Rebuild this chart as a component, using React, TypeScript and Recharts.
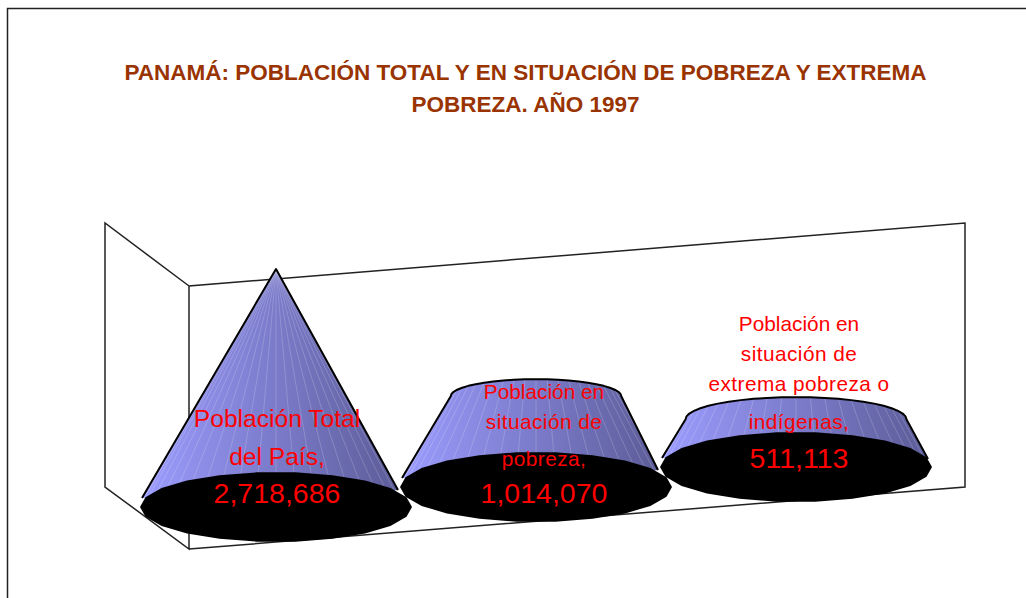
import { BarChart, Bar, XAxis, YAxis, LabelList } from 'recharts'

const titleLines = [
  'PANAMÁ: POBLACIÓN TOTAL Y EN SITUACIÓN DE POBREZA Y EXTREMA',
  'POBREZA. AÑO 1997',
]
const categories = [
  'Población Total del País',
  'Población en situación de pobreza',
  'Población en situación de extrema pobreza o indígenas',
]
const values = [2718686, 1014070, 511113]
const labelLines = [
  ['Población Total', 'del País,'],
  ['Población en', 'situación de', 'pobreza,'],
  ['Población en', 'situación de', 'extrema pobreza o', 'indígenas,'],
]
const valueLabels = ['2,718,686', '1,014,070', '511,113']

const data = categories.map((name, i) => ({ name, value: values[i] }))

// fake 3D: the floor climbs to the right, and the frustum tops sit a bit higher
const floorLift = [0, 20, 40]
const topLift = [0, 2, 3]
const rightEdge = [122, 122, 132]
const labelShift = [1, 8, 3]
const labelBaselines = [
  [427, 465, 503],
  [399, 429, 466, 503],
  [331, 361, 391, 429, 468],
]

const BASE_RATIO = 136 / 260
const BASE_RY = 35
const RED = '#ff0000'

function ellipsePoints(cx: number, cy: number, rx: number, ry: number, steps: number) {
  const pts: string[] = []
  for (let i = 0; i < steps; i++) {
    const a = (i / steps) * Math.PI * 2
    pts.push(`${cx + rx * Math.cos(a)},${cy + ry * Math.sin(a)}`)
  }
  return pts.join(' ')
}

function ConeShape(props: any) {
  const { x, y, width, height, index } = props
  const cx = x + width / 2
  const rb = width * BASE_RATIO
  const baseY = y + height - floorLift[index]
  const topY = y - floorLift[index] - topLift[index]
  const rt = rb * (1 - values[index] / values[0])
  const rise = rt * 0.2

  const arc: string[] = []
  const facets = []
  const steps = 24
  for (let i = 0; i <= steps; i++) {
    const a = (i / steps) * Math.PI
    const tx = cx - rt * Math.cos(a)
    const ty = topY - rise * Math.sin(a)
    arc.push(`${tx},${ty}`)
    if (i > 0 && i < steps) {
      facets.push(
        <line
          key={i}
          x1={tx}
          y1={ty}
          x2={cx - rb * Math.cos(a)}
          y2={baseY - BASE_RY * Math.sin(a)}
          stroke="#ffffff"
          strokeOpacity={0.3}
          strokeWidth={0.6}
        />,
      )
    }
  }
  const left = `${cx - 134},${baseY - 9}`
  const right = `${cx + rightEdge[index]},${baseY - (index === 2 ? 8 : 17)}`

  return (
    <g>
      <polygon points={`${left} ${arc.join(' ')} ${right} ${cx},${baseY}`} fill="url(#coneFill)" />
      {facets}
      <polyline
        points={`${left} ${arc.join(' ')} ${right}`}
        fill="none"
        stroke="#000000"
        strokeWidth={2}
        strokeLinejoin="round"
      />
      <polygon points={ellipsePoints(cx, baseY, rb, BASE_RY, 22)} fill="#000000" />
    </g>
  )
}

function ConeLabel(props: any) {
  const { index, viewBox } = props
  const cx = viewBox.x + viewBox.width / 2 + labelShift[index]
  const lines = labelLines[index]
  const baselines = labelBaselines[index]
  return (
    <g fontFamily="'Liberation Sans', Arial, sans-serif" fill={RED} textAnchor="middle">
      {lines.map((line, i) => (
        <text
          key={line}
          x={cx}
          y={baselines[i]}
          fontSize={index === 0 ? 24.6 : 20.8}
          letterSpacing={index > 0 && i > 0 ? 0.45 : 0}
          fill={RED}
        >
          {line}
        </text>
      ))}
      <text x={cx} y={baselines[lines.length]} fontSize={28.5} fill={RED}>
        {valueLabels[index]}
      </text>
    </g>
  )
}

export default function App() {
  return (
    <div style={{ position: 'absolute', left: 0, top: 0, width: 1026, height: 598, overflow: 'hidden', background: '#fff' }}>
      <BarChart
        width={1026}
        height={598}
        data={data}
        margin={{ top: 269, right: 100, bottom: 91, left: 146 }}
        barCategoryGap={0}
      >
        <defs>
          <linearGradient id="coneFill" x1="0" y1="0" x2="1" y2="0">
            <stop offset="0%" stopColor="#9c9cff" />
            <stop offset="50%" stopColor="#7c7ccc" />
            <stop offset="100%" stopColor="#5c5c98" />
          </linearGradient>
        </defs>
        <path d="M7.5,598 L7.5,8.5 L1026,8.5" fill="none" stroke="#222222" strokeWidth={1.5} />
        <g fontFamily="'Liberation Sans', Arial, sans-serif" fontWeight="bold" fontSize={22.5} textAnchor="middle">
          <text x={525.5} y={80} fill="#993300">{titleLines[0]}</text>
          <text x={525.5} y={112} fill="#993300">{titleLines[1]}</text>
        </g>
        <path
          d="M189,286 L105,223 L105,487 L189,549 L189,286 L965,223 L965,487 L189,549"
          fill="none"
          stroke="#222222"
          strokeWidth={1.5}
        />
        <XAxis dataKey="name" hide />
        <YAxis hide domain={[0, values[0]]} />
        <Bar dataKey="value" shape={ConeShape} isAnimationActive={false}>
          <LabelList dataKey="value" content={ConeLabel} />
        </Bar>
      </BarChart>
    </div>
  )
}
